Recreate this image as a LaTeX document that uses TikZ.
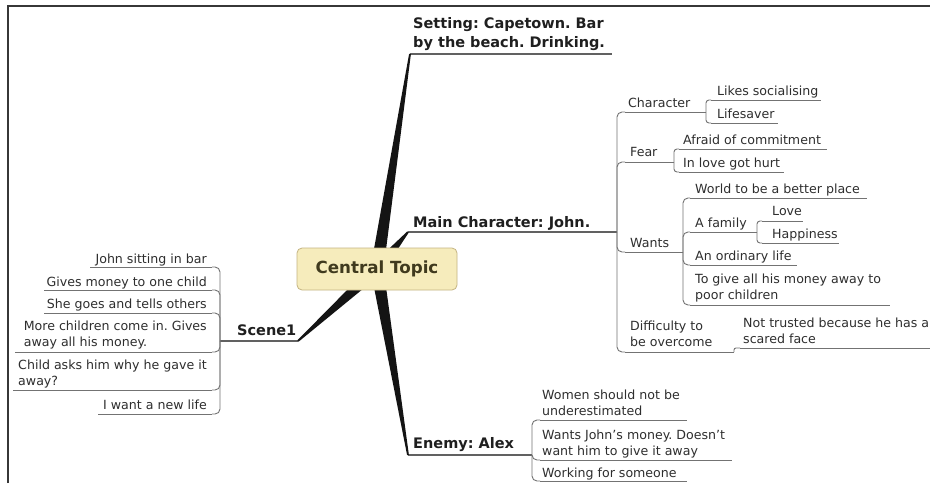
\documentclass[tikz,border=0pt]{standalone}
\usepackage{fontspec}
\setmainfont{DejaVu Sans}
\usetikzlibrary{calc}
\frenchspacing

\definecolor{ctfill}{RGB}{246,236,188}
\definecolor{ctdraw}{RGB}{196,180,130}
\definecolor{cttext}{RGB}{64,58,30}
\definecolor{frame}{RGB}{55,55,55}

\tikzset{
  mainfs/.style={font=\fontsize{14.5}{19}\selectfont\bfseries, text=black!88},
  subfs/.style={font=\fontsize{12.6}{15.5}\selectfont, text=black!82},
  mtopic/.style={mainfs, inner xsep=6pt, inner ysep=0pt, align=left, anchor=base west},
  stopic/.style={subfs, inner xsep=4pt, inner ysep=0pt, align=left, anchor=base west},
  ltopic/.style={subfs, inner xsep=4pt, inner ysep=0pt, align=left, anchor=base east},
  central/.style={draw=ctdraw, line width=0.8pt, fill=ctfill, rounded corners=5pt,
    minimum width=160pt, minimum height=42pt, inner sep=0pt,
    font=\fontsize{16.7}{20}\selectfont\bfseries, text=cttext},
  uline/.style={draw=black!55, line width=0.9pt},
  mline/.style={draw=black!62, line width=1.1pt},
  conn/.style={draw=black!55, line width=0.9pt, rounded corners=#1},
  conn/.default=5pt,
  branch/.style={fill=black!92},
}

% tapered main branch from the centre (#1) to the start of a topic line (#2)
\newcommand\mmbranch[2]{%
  \fill[branch] ($(#1)!6.5pt!90:(#2)$) -- ($(#2)!0.9pt!-90:(#1)$)
    -- ($(#2)!0.9pt!90:(#1)$) -- ($(#1)!6.5pt!-90:(#2)$) -- cycle;}

% topic text with its underline: name, text x, last baseline, line y, line from x, line to x, text
\newcommand\topicR[7]{%
  \node[stopic] (#1) at (#2,#3) {#7};
  \coordinate (#1_l) at (#5,#4);
  \coordinate (#1_r) at (#6,#4);
  \draw[uline] (#1_l) -- (#1_r);}
\newcommand\topicL[7]{%
  \node[ltopic] (#1) at (#2,#3) {#7};
  \coordinate (#1_l) at (#5,#4);
  \coordinate (#1_r) at (#6,#4);
  \draw[uline] (#1_l) -- (#1_r);}

\begin{document}
\begin{tikzpicture}[x=1pt, y=-1pt]
  \useasboundingbox (0,0) rectangle (930,483);
  \fill[white] (0,0) rectangle (930,483);
  % page frame
  \draw[frame, line width=2pt] (7.5,483) -- (7.5,6) -- (930,6);

  \coordinate (c0) at (377,269);

  % main topics
  \node[mtopic] (set) at (407,47) {Setting: Capetown. Bar\\by the beach. Drinking.};
  \coordinate (set_l) at (410,54);
  \coordinate (set_r) at (612,54);
  \node[mtopic] (mc) at (407,227) {Main Character: John.};
  \coordinate (mc_l) at (408,232);
  \coordinate (mc_r) at (617,232);
  \node[mtopic] (en) at (407,448) {Enemy: Alex};
  \coordinate (en_l) at (408,455);
  \coordinate (en_r) at (532,455);
  \node[mtopic] (sc) at (231,335) {Scene1};
  \coordinate (sc_r) at (298,341);
  \coordinate (sc_l) at (220,341);

  \draw[mline] (set_l) -- (set_r);
  \draw[mline] (mc_l) -- (mc_r);
  \draw[mline] (en_l) -- (en_r);
  \draw[mline] (sc_l) -- (sc_r);

  % tapered branches, then the central topic on top of them
  \mmbranch{c0}{set_l}
  \mmbranch{c0}{mc_l}
  \mmbranch{c0}{en_l}
  \mmbranch{c0}{sc_r}
  \node[central] (ct) at (c0) {Central Topic};

  % Main Character: John.
  \topicR{cha}{624}{107}{112}{625}{706}{Character}
  \topicR{lik}{713}{95}{100}{711}{821}{Likes socialising}
  \topicR{lif}{713}{118}{123}{711}{778}{Lifesaver}
  \topicR{fea}{626}{156}{162}{625}{674}{Fear}
  \topicR{afr}{679}{144}{149}{679}{827}{Afraid of commitment}
  \topicR{inl}{679}{167}{172}{679}{784}{In love got hurt}
  \topicR{wan}{626}{247}{252}{625}{683}{Wants}
  \topicR{wor}{691}{193}{198}{690}{867}{World to be a better place}
  \topicR{fam}{691}{227}{232}{690}{757}{A family}
  \topicR{lov}{768}{215}{221}{762}{803}{Love}
  \topicR{hap}{768}{238}{243}{762}{839}{Happiness}
  \topicR{ord}{691}{260}{265}{690}{797}{An ordinary life}
  \topicR{giv}{691}{299}{305}{690}{890}{To give all his money away to\\poor children}
  \topicR{dif}{626}{346}{352}{625}{734}{Difficulty to\\be overcome}
  \topicR{not}{739}{343}{348}{740}{930}{Not trusted because he has a\\scared face}

  \foreach \c in {cha_l,fea_l,wan_l,dif_l} \draw[conn] (mc_r) |- (\c);
  \foreach \c in {lik_l,lif_l} \draw[conn=3pt] (cha_r) |- (\c);
  \foreach \c in {afr_l,inl_l} \draw[conn=3pt] (fea_r) |- (\c);
  \foreach \c in {wor_l,fam_l,ord_l,giv_l} \draw[conn] (wan_r) |- (\c);
  \foreach \c in {lov_l,hap_l} \draw[conn=3pt] (fam_r) |- (\c);
  \draw[conn=2pt] (dif_r) |- (not_l);

  % Enemy: Alex
  \topicR{wom}{538}{415}{420}{540}{687}{Women should not be\\underestimated}
  \topicR{wjm}{538}{455}{460}{540}{732}{Wants John's money. Doesn't\\want him to give it away}
  \topicR{wfs}{538}{477}{481}{540}{687}{Working for someone}
  \foreach \c in {wom_l,wjm_l,wfs_l} \draw[conn] (en_r) |- (\c);

  % Scene1
  \topicL{jsb}{211}{263}{267}{90}{212}{John sitting in bar}
  \topicL{gmo}{211}{286}{290}{44}{212}{Gives money to one child}
  \topicL{sgo}{211}{308}{313}{44}{212}{She goes and tells others}
  \topicL{mcc}{211}{346}{352}{15}{212}{More children come in. Gives\\away all his money.}
  \topicL{cas}{211}{385}{390}{13}{212}{Child asks him why he gave it\\away?}
  \topicL{iwa}{211}{409}{414}{98}{212}{I want a new life}
  \foreach \c in {jsb_r,gmo_r,sgo_r,mcc_r,cas_r,iwa_r} \draw[conn] (sc_l) |- (\c);
\end{tikzpicture}
\end{document}
